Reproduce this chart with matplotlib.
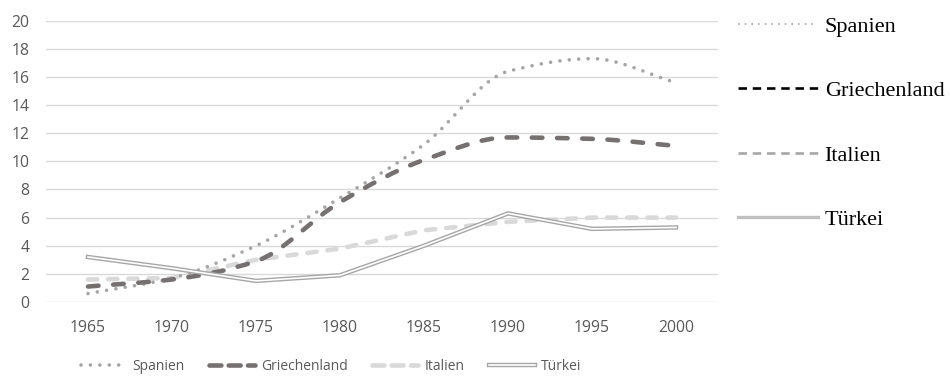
import matplotlib
matplotlib.use("Agg")
import matplotlib.pyplot as plt
from matplotlib.path import Path
from matplotlib.patches import PathPatch
from matplotlib.lines import Line2D
from matplotlib.legend_handler import HandlerTuple
import numpy as np

years = ["1965", "1970", "1975", "1980", "1985", "1990", "1995", "2000"]
spanien = [0.6, 1.7, 4.0, 7.4, 11.2, 16.4, 17.3, 15.6]
griechenland = [1.1, 1.6, 2.9, 7.1, 10.1, 11.7, 11.6, 11.1]
italien = [1.6, 1.7, 3.0, 3.8, 5.1, 5.7, 6.0, 6.0]
tuerkei = [3.2, 2.4, 1.5, 1.9, 4.0, 6.3, 5.2, 5.3]
series_names = ["Spanien", "Griechenland", "Italien", "Türkei"]
yticks = [0, 2, 4, 6, 8, 10, 12, 14, 16, 18, 20]

SANS = ["Open Sans", "DejaVu Sans"]
SERIF = ["Liberation Serif", "DejaVu Serif"]
TXT = "#595959"


def smooth_path(x, y):
    """Bezier path through the data points with monotone (PCHIP-like) tangents."""
    x = np.asarray(x, float)
    y = np.asarray(y, float)
    n = len(x)
    d = np.diff(y) / np.diff(x)
    m = np.zeros(n)
    m[0] = d[0]
    m[-1] = d[-1]
    for k in range(1, n - 1):
        if d[k - 1] * d[k] > 0:
            m[k] = 2.0 / (1.0 / d[k - 1] + 1.0 / d[k])
        else:
            m[k] = 0.0
    verts = [(x[0], y[0])]
    codes = [Path.MOVETO]
    for i in range(n - 1):
        h = x[i + 1] - x[i]
        verts += [(x[i] + h / 3, y[i] + m[i] * h / 3),
                  (x[i + 1] - h / 3, y[i + 1] - m[i + 1] * h / 3),
                  (x[i + 1], y[i + 1])]
        codes += [Path.CURVE4] * 3
    return Path(verts, codes)


fig = plt.figure(figsize=(9.5, 3.77), dpi=100)
ax = fig.add_axes([46 / 950, 1 - 302 / 377, 672 / 950, (302 - 20.7) / 377])

x = np.arange(len(years))

ax.set_ylim(0, 20)
ax.set_xlim(-0.5, len(years) - 0.5)
ax.set_yticks(yticks)
ax.set_xticks(x)
ax.set_xticklabels(years)
ax.grid(axis="y", color="#D9D9D9", lw=1.0)
ax.set_axisbelow(True)
for s in ax.spines.values():
    s.set_visible(False)
ax.tick_params(length=0, labelsize=11.3, labelcolor=TXT)
ax.tick_params(axis="y", pad=12)
ax.tick_params(axis="x", pad=13)
for lab in ax.get_xticklabels() + ax.get_yticklabels():
    lab.set_fontfamily(SANS)

# Spanien - smoothed dotted
c_sp = "#A5A5A5"
ax.add_patch(PathPatch(smooth_path(x, spanien), fill=False, edgecolor=c_sp, lw=2.6,
                       linestyle=(0, (0.01, 2.6)), capstyle="round", zorder=3))
# Griechenland - smoothed dashed
c_gr = "#767171"
ax.add_patch(PathPatch(smooth_path(x, griechenland), fill=False, edgecolor=c_gr, lw=3.3,
                       linestyle=(0, (2.3, 3.2)), capstyle="round", zorder=4))
# Italien - dashed light
c_it = "#D9D9D9"
ax.plot(x, italien, color=c_it, lw=3.3, ls=(0, (2.0, 2.4)),
        dash_capstyle="round", zorder=2)
# Türkei - double line
c_tr = "#A6A6A6"
l_tr1, = ax.plot(x, tuerkei, color=c_tr, lw=3.2, solid_joinstyle="miter", zorder=5)
l_tr2, = ax.plot(x, tuerkei, color="white", lw=1.2, solid_joinstyle="miter", zorder=6)

# bottom legend
h_sp = Line2D([], [], color=c_sp, lw=2.6, ls=(0, (0.01, 2.6)), dash_capstyle="round")
h_gr = Line2D([], [], color=c_gr, lw=3.3, ls=(0, (2.6, 1.6)), dash_capstyle="round")
h_it = Line2D([], [], color=c_it, lw=3.3, ls=(0, (2.6, 1.6)), dash_capstyle="round")
fig.legend([h_sp, h_gr, h_it, (l_tr1, l_tr2)], series_names,
           handler_map={tuple: HandlerTuple(ndivide=1)},
           loc="center", bbox_to_anchor=(331 / 950, 1 - 366 / 377),
           ncol=4, frameon=False, prop={"family": SANS, "size": 10},
           labelcolor=TXT, handlelength=3.3, handletextpad=0.45,
           columnspacing=1.75)

# right legend (serif)
r_sp = Line2D([], [], color="#A6A6A6", lw=1.2, ls=(0, (1, 3)))
r_gr = Line2D([], [], color="black", lw=1.9, ls=(0, (3.2, 2.2)))
r_it = Line2D([], [], color="#A6A6A6", lw=1.9, ls=(0, (3.2, 2.2)))
r_tr = Line2D([], [], color="#BFBFBF", lw=2.4)
fig.legend([r_sp, r_gr, r_it, r_tr], series_names,
           loc="upper left", bbox_to_anchor=(738 / 950, 1 - 16 / 377),
           frameon=False, prop={"family": SERIF, "size": 16},
           handlelength=3.6, handletextpad=0.3, labelspacing=1.98,
           borderpad=0, borderaxespad=0)

fig.savefig("out.png", dpi=100)
